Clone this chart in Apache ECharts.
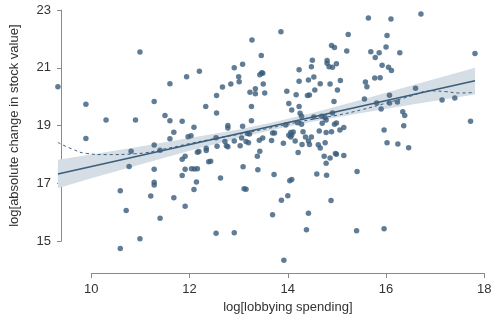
<!DOCTYPE html>
<html>
<head>
<meta charset="utf-8">
<script src="https://cdn.jsdelivr.net/npm/echarts@6/dist/echarts.min.js"></script>
<style>
  html, body { margin: 0; padding: 0; background: #fff; }
  #chart { width: 500px; height: 319px; }
</style>
</head>
<body>
<div id="chart"></div>
<script>
// log lobbying spending (x) and log absolute change in stock value (y)
var spend = [
  9.32, 9.89, 9.89, 10.30, 10.90, 10.99, 10.81, 10.77, 10.59, 10.71, 10.59, 10.99,
  11.28, 11.28, 11.28, 11.28, 11.28, 11.21, 11.40, 11.40, 11.50, 11.60, 11.60, 11.60,
  11.68, 11.68, 11.85, 11.85, 11.85, 11.91, 11.91, 11.91, 11.94, 11.97, 12.03, 12.09,
  12.04, 12.10, 12.16, 12.09, 12.14, 12.16, 12.19, 12.20, 12.33, 12.34, 12.34, 12.39,
  12.43, 12.55, 12.55, 12.54, 12.56, 12.54, 12.63, 12.67, 12.72, 12.75, 12.78, 12.78,
  12.78, 12.84, 12.91, 12.91, 12.91, 13.00, 13.01, 13.03, 13.08, 13.08, 13.06, 13.09,
  13.11, 13.15, 13.15, 13.20, 13.18, 13.22, 13.23, 13.27, 13.26, 13.26, 13.34, 13.34,
  13.38, 13.39, 13.43, 13.46, 13.47, 13.49, 13.50, 13.53, 13.43, 13.42, 13.49, 13.67,
  13.69, 13.73, 13.72, 13.69, 13.86, 13.91, 13.87, 13.92, 13.96, 13.98, 14.00, 14.02,
  14.02, 14.06, 14.06, 14.08, 14.08, 14.04, 14.08, 14.11, 14.15, 14.17, 14.20, 14.21,
  14.23, 14.23, 14.23, 14.25, 14.28, 14.28, 14.29, 14.31, 14.36, 14.38, 14.42, 14.40,
  14.44, 14.42, 14.44, 14.42, 14.48, 14.50, 14.48, 14.53, 14.53, 14.55, 14.59, 14.62,
  14.64, 14.66, 14.66, 14.69, 14.70, 14.74, 14.76, 14.76, 14.78, 14.80, 14.80, 14.78,
  14.79, 14.78, 14.89, 14.84, 14.91, 14.86, 14.88, 14.89, 14.95, 14.86, 14.91, 14.95,
  14.94, 14.99, 14.97, 14.99, 14.99, 15.01, 15.06, 15.07, 15.14, 15.14, 15.20, 15.23,
  15.41, 15.40, 15.56, 15.58, 15.61, 15.64, 15.69, 15.77, 15.78, 15.81, 15.86, 15.88,
  15.90, 15.92, 15.96, 15.96, 16.00, 16.02, 16.02, 16.07, 16.07, 16.05, 16.11, 16.10,
  16.23, 16.24, 16.28, 16.34, 16.38, 16.36, 16.46, 16.60, 16.71, 17.14, 17.40, 17.72,
  17.81
];
var change = [
  20.35, 19.74, 18.56, 19.20, 19.20, 21.55, 18.12, 17.59, 16.75, 16.07, 14.75, 15.09,
  19.84, 18.33, 17.49, 17.04, 16.95, 16.57, 18.15, 15.80, 19.35, 20.45, 19.17, 18.55,
  18.77, 16.51, 19.15, 17.84, 17.28, 17.94, 17.49, 16.21, 20.69, 18.62, 18.65, 18.95,
  17.51, 17.50, 17.51, 16.79, 17.05, 18.08, 18.11, 20.88, 19.66, 18.22, 18.14, 17.75,
  17.77, 20.04, 19.44, 18.58, 18.29, 15.28, 17.19, 20.34, 18.45, 18.31, 19.01, 18.92,
  18.27, 20.44, 21.00, 18.47, 15.30, 20.69, 20.52, 18.31, 21.12, 18.98, 18.57, 17.58,
  16.82, 16.80, 18.45, 18.41, 18.73, 18.71, 20.16, 21.96, 19.66, 19.17, 20.28, 20.10,
  17.94, 17.48, 20.76, 21.43, 20.83, 20.81, 20.44, 20.13, 18.12, 18.50, 18.57, 18.49,
  18.75, 18.75, 17.31, 15.92, 22.25, 18.39, 16.42, 14.35, 19.02, 20.19, 16.58, 19.77,
  18.67, 18.76, 18.61, 19.54, 18.69, 17.10, 17.14, 18.78, 18.47, 20.07, 19.10, 18.07,
  20.93, 20.54, 19.66, 19.43, 19.05, 19.33, 18.35, 18.79, 18.61, 15.40, 15.97, 20.04,
  20.06, 18.47, 18.35, 20.58, 21.04, 21.26, 18.61, 20.68, 19.30, 20.23, 17.33, 18.34,
  18.82, 20.45, 18.23, 19.33, 19.08, 17.94, 18.41, 19.28, 19.20, 21.25, 21.16, 17.70,
  17.29, 18.76, 18.79, 21.04, 21.02, 17.88, 16.41, 21.77, 21.70, 20.44, 19.44, 19.05,
  19.84, 19.09, 18.04, 18.01, 21.14, 20.23, 18.85, 20.56, 18.94, 17.97, 21.58, 22.15,
  17.42, 15.37, 19.92, 20.51, 20.35, 22.72, 21.56, 20.65, 21.36, 19.78, 21.52, 20.66,
  19.58, 21.09, 18.85, 15.44, 21.72, 22.12, 18.41, 19.78, 20.05, 21.02, 20.91, 22.69,
  19.82, 18.37, 21.52, 19.48, 19.35, 19.00, 18.24, 20.29, 22.86, 19.89, 19.96, 19.15,
  21.50
];

// linear fit (ends) and its confidence band
var fitX = [9.32, 17.81];
var fitY = [17.33, 20.55];
var bandX = [9.32, 10, 11, 12, 13, 13.7, 14.5, 15.5, 16.5, 17.81];
var bandUpper = [17.82, 18.00, 18.28, 18.57, 18.87, 19.12, 19.44, 19.90, 20.38, 21.00];
var bandLower = [16.84, 17.18, 17.66, 18.13, 18.57, 18.86, 19.14, 19.44, 19.72, 20.08];

// smoothed (dashed) curve
var loessX = [9.32, 9.6, 9.9, 10.3, 10.9, 11.5, 12.0, 12.5, 13.0, 13.5, 14.0, 14.5, 15.0, 15.5, 16.0, 16.5, 16.9, 17.2, 17.5, 17.81];
var loessY = [18.42, 18.20, 18.04, 18.00, 18.03, 18.20, 18.38, 18.55, 18.70, 18.87, 19.05, 19.22, 19.36, 19.55, 19.78, 20.02, 20.20, 20.18, 20.13, 20.15];

var xTicks = [10, 18, 2];
var yTicks = [15, 23, 2];

var dotColor = '#3a5d7b';
var textColor = '#333';
var axisColor = '#8a8a8a';
var font = 'Liberation Sans, Arial, sans-serif';

var myChart = echarts.init(document.getElementById('chart'));

var points = spend.map(function (x, i) { return [x, change[i]]; });
var fitLine = fitX.map(function (x, i) { return [x, fitY[i]]; });
var loessLine = loessX.map(function (x, i) { return [x, loessY[i]]; });

var option = {
  animation: false,
  grid: [
    // data area
    { left: 52, right: 15.7, top: 10, bottom: 54.5 },
    // visible x axis
    { left: 91.33, right: 15.7, top: 10, bottom: 41.3 },
    // visible y axis
    { left: 50, right: 15.7, top: 10, bottom: 77.7 }
  ],
  xAxis: [
    { gridIndex: 0, type: 'value', min: 9.2, max: 18, show: false },
    {
      gridIndex: 1, type: 'value', min: xTicks[0], max: xTicks[1], interval: xTicks[2],
      name: 'log[lobbying spending]', nameLocation: 'middle', nameGap: 27,
      nameTextStyle: { color: textColor, fontSize: 13, fontFamily: font },
      axisLine: { show: true, lineStyle: { color: axisColor, width: 1 } },
      axisTick: { show: true, length: 5, lineStyle: { color: axisColor } },
      axisLabel: { color: textColor, fontSize: 13, fontFamily: font, margin: 10 },
      splitLine: { show: false }
    },
    { gridIndex: 2, type: 'value', min: 0, max: 1, show: false }
  ],
  yAxis: [
    { gridIndex: 0, type: 'value', min: 14.2, max: 23, show: false },
    { gridIndex: 1, type: 'value', min: 0, max: 1, show: false },
    {
      gridIndex: 2, type: 'value', min: yTicks[0], max: yTicks[1], interval: yTicks[2],
      name: 'log[absolute change in stock value]', nameLocation: 'middle', nameGap: 40,
      nameTextStyle: { color: textColor, fontSize: 13, fontFamily: font },
      axisLine: { show: true, lineStyle: { color: axisColor, width: 1 } },
      axisTick: { show: true, length: 4, lineStyle: { color: axisColor } },
      axisLabel: { color: textColor, fontSize: 13, fontFamily: font, margin: 10 },
      splitLine: { show: false }
    }
  ],
  series: [
    {
      type: 'custom',
      xAxisIndex: 0, yAxisIndex: 0,
      z: 1,
      silent: true,
      data: [0],
      renderItem: function (params, api) {
        var pts = [];
        for (var i = 0; i < bandX.length; i++) pts.push(api.coord([bandX[i], bandUpper[i]]));
        for (var j = bandX.length - 1; j >= 0; j--) pts.push(api.coord([bandX[j], bandLower[j]]));
        return {
          type: 'polygon',
          shape: { points: pts },
          style: { fill: '#d5dde5', stroke: null }
        };
      }
    },
    {
      type: 'line',
      xAxisIndex: 0, yAxisIndex: 0,
      z: 2,
      data: fitLine,
      symbol: 'none',
      lineStyle: { color: dotColor, width: 1.5 }
    },
    {
      type: 'line',
      xAxisIndex: 0, yAxisIndex: 0,
      z: 2,
      data: loessLine,
      smooth: true,
      symbol: 'none',
      lineStyle: { color: dotColor, width: 1, type: [3, 3] }
    },
    {
      type: 'scatter',
      xAxisIndex: 0, yAxisIndex: 0,
      z: 3,
      data: points,
      symbolSize: 5.5,
      itemStyle: { color: dotColor }
    }
  ]
};

myChart.setOption(option);
</script>
</body>
</html>
